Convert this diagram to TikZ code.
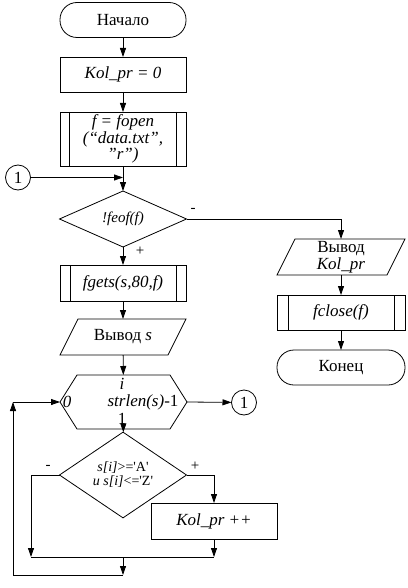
\documentclass[tikz,border=0pt]{standalone}
\usepackage{fontspec}
\setmainfont{Liberation Serif}
\usetikzlibrary{shapes.geometric,arrows.meta,calc}
\begin{document}
\begin{tikzpicture}[x=1pt,y=-1pt,
  every node/.style={font=\fontsize{17}{16.5}\selectfont, inner sep=0pt, outer sep=0pt, align=center},
  line width=0.8pt,
  arr/.style={-{Triangle[length=9pt,width=6pt]}},
  box/.style={draw, minimum width=126pt, minimum height=35pt},
  term/.style={box, rounded corners=17pt},
  plain/.style={minimum width=126pt, minimum height=36pt},
  dec/.style={draw, diamond, minimum width=127pt, minimum height=56pt},
  conn/.style={draw, circle, minimum size=25pt},
  it/.style={font=\fontsize{17}{16.5}\selectfont\itshape},
  small/.style={font=\fontsize{14}{14}\selectfont},
  lbl/.style={font=\fontsize{15}{16}\selectfont}
]
\useasboundingbox (0,0) rectangle (407,588);

% main column
\node[term] (start) at (123,20) {Начало};
\node[box, it] (k0) at (123,74.5) {Kol\_pr = 0};
\node[box, it, minimum height=54pt] (fo) at (123,139) {f = fopen\\(“data.txt”,\\”r”)};
\draw ([xshift=9pt]fo.north west) -- ([xshift=9pt]fo.south west);
\draw ([xshift=-10pt]fo.north east) -- ([xshift=-10pt]fo.south east);

\node[conn] (c1) at (18,177.5) {1};
\coordinate (j1) at (123,177.5);

\node[dec, font=\fontsize{15}{13}\selectfont\itshape] (d1) at (123,219) {!feof(f)};

\node[box, it, minimum height=36pt] (fg) at (123,283) {fgets(s,80,f)};
\draw ([xshift=10pt]fg.north west) -- ([xshift=10pt]fg.south west);
\draw ([xshift=-10pt]fg.north east) -- ([xshift=-10pt]fg.south east);

\node[plain] (os) at (123,337) {Вывод \textit{s}};
\draw (os.south west) -- ($(os.north west)+(18,0)$) -- (os.north east) -- ($(os.south east)-(18,0)$) -- cycle;

\node[minimum width=127pt, minimum height=54pt] (hx) at (123.5,402) {};
\draw (hx.west) -- ($(hx.north west)+(17,0)$) -- ($(hx.north east)-(17,0)$) -- (hx.east) -- ($(hx.south east)-(17,0)$) -- ($(hx.south west)+(17,0)$) -- cycle;
\node[it] (hi) at (122,384) {i};
\node[it] (h0) at (67,402) {0};
\node (hn) at (143,402) {\textit{strlen(s)}-1};
\node (h1) at (122,419) {1};

\node[conn] (c2) at (244,402.5) {1};

\node[dec, minimum height=54pt, small] (d2) at (123,475) {\textit{s[i]}>=\textquotesingle A\textquotesingle\\\textit{и s[i]}<=\textquotesingle Z\textquotesingle};

\node[box, it, minimum height=36pt] (kp) at (214,521) {Kol\_pr ++};

\coordinate (jl) at (31,557);
\coordinate (jr) at (214,557);
\coordinate (jm) at (123,557);
\coordinate (jb) at (123,575);
\coordinate (lu) at (13,402);

% right column
\node[plain, minimum width=128pt] (ok) at (341,257) {Вывод\\\textit{Kol\_pr}};
\draw (ok.south west) -- ($(ok.north west)+(18,0)$) -- (ok.north east) -- ($(ok.south east)-(18,0)$) -- cycle;
\node[box, it, minimum width=128pt] (fc) at (341,312.5) {fclose(f)};
\draw ([xshift=11pt]fc.north west) -- ([xshift=11pt]fc.south west);
\draw ([xshift=-11pt]fc.north east) -- ([xshift=-11pt]fc.south east);
\node[term, minimum width=128pt] (end) at (341,367.5) {Конец};

% labels
\node[lbl] (lm1) at (193,210) {-};
\node[lbl] (lp1) at (140,251) {+};
\node[lbl] (lm2) at (48,467) {-};
\node[lbl] (lp2) at (195,466) {+};

% connectors
\draw[arr] (start) -- (k0);
\draw[arr] (k0) -- (fo);
\draw[arr] (fo) -- (d1);
\draw[arr] (c1) -- (j1);
\draw[arr] (d1) -- (fg);
\draw[arr] (fg) -- (os);
\draw[arr] (os) -- (hx);
\draw[arr] (hx.east) -- (c2);
\draw[arr] (hx) -- (d2);
\draw[arr] (d1.east) -| (ok.north);
\draw[arr] (ok) -- (fc);
\draw[arr] (fc) -- (end);
\draw[arr] (d2.east) -| (kp.north);
\draw[arr] (kp) -- (jr);
\draw[arr] (d2.west) -| (jl);
\draw (jl) -- (jr);
\draw[arr] (jm) -- (jb);
\draw[arr] (jb) -| (lu);
\draw[arr] (lu) -- (hx.west);
\end{tikzpicture}
\end{document}
